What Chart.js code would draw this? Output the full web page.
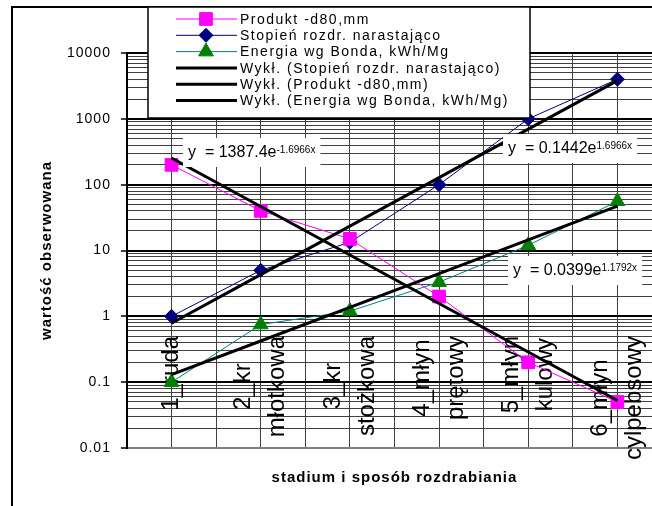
<!DOCTYPE html>
<html>
<head>
<meta charset="utf-8">
<script src="https://cdn.jsdelivr.net/npm/chart.js@4/dist/chart.umd.min.js"></script>
<style>
  html, body { margin: 0; padding: 0; background: #fff; overflow: hidden; }
  #wrap { position: relative; width: 652px; height: 506px; overflow: hidden; }
</style>
</head>
<body>
<div id="wrap"><canvas id="chart" width="680" height="506"></canvas></div>
<script>
const stages = ['1_ruda', '2_kr młotkowa', '3_kr stożkowa', '4_młyn prętowy', '5_młyn kulowy', '6_młyn cylpebsowy'];
const produktD80 = [200, 40, 15, 2, 0.2, 0.05];
const stopienRozdr = [1, 5, 13.33, 100, 1000, 4000];
const energiaBond = [0.1, 0.75, 1.2, 3.3, 12, 56];

// linie trendu wykładnicze: y = a * e^(b*x)
const trendStopien = [0.1442, 1.6966];
const trendProdukt = [1387.4, -1.6966];
const trendEnergia = [0.0399, 1.1792];

const yMajor = [0.01, 0.1, 1, 10, 100, 1000, 10000];

const FONT = '"Liberation Sans", Arial, sans-serif';
Chart.defaults.font.family = FONT;
Chart.defaults.color = '#000';

const pts = arr => arr.map((v, i) => ({ x: i + 1, y: v }));
const trendPts = ([a, b]) => stages.map((_, i) => ({ x: i + 1, y: a * Math.exp(b * (i + 1)) }));

const isMajor = v => yMajor.some(m => Math.abs(v - m) / m < 1e-6);

// ramka obszaru wykresu
const frame = {
  id: 'frame',
  beforeDraw(chart) {
    const ctx = chart.ctx;
    ctx.save();
    ctx.fillStyle = '#fff';
    ctx.fillRect(0, 0, chart.width, chart.height);
    ctx.strokeStyle = '#000';
    ctx.lineWidth = 2;
    ctx.strokeRect(12, 7, 700, 600);
    ctx.restore();
    ctx.letterSpacing = '1px';
  }
};

// podpisy kategorii pionowo, wewnątrz obszaru kreślenia
const stageLabels = {
  id: 'stageLabels',
  beforeDatasetsDraw(chart) {
    const ctx = chart.ctx;
    const xs = chart.scales.x;
    ctx.save();
    ctx.letterSpacing = '0px';
    ctx.font = '24px ' + FONT;
    ctx.fillStyle = '#000';
    ctx.textAlign = 'center';
    ctx.textBaseline = 'middle';
    stages.forEach((s, i) => {
      const lines = s.split(' ');
      const maxW = Math.max(...lines.map(l => ctx.measureText(l).width));
      const cy = 336 + maxW / 2;
      const cx0 = xs.getPixelForValue(i + 1);
      lines.forEach((l, j) => {
        const cx = cx0 + (j - (lines.length - 1) / 2) * 34;
        ctx.save();
        ctx.translate(cx, cy);
        ctx.rotate(-Math.PI / 2);
        ctx.fillText(l, 0, 0);
        ctx.restore();
      });
    });
    ctx.restore();
  }
};

// równania linii trendu
const equations = {
  id: 'equations',
  afterDatasetsDraw(chart) {
    const ctx = chart.ctx;
    const items = [
      { c: trendProdukt, x: 188, y: 157 },
      { c: trendStopien, x: 508, y: 153 },
      { c: trendEnergia, x: 513, y: 275 }
    ];
    ctx.save();
    ctx.letterSpacing = '0px';
    ctx.textBaseline = 'alphabetic';
    ctx.textAlign = 'left';
    items.forEach(({ c, x, y }) => {
      const main = 'y  = ' + c[0] + 'e';
      const sup = c[1] + 'x';
      ctx.font = '16px ' + FONT;
      const w1 = ctx.measureText(main).width;
      ctx.font = '10px ' + FONT;
      const w2 = ctx.measureText(sup).width;
      ctx.fillStyle = '#fff';
      ctx.fillRect(x - 5, y - 19, w1 + w2 + 10, 29);
      ctx.fillStyle = '#000';
      ctx.font = '16px ' + FONT;
      ctx.fillText(main, x, y);
      ctx.font = '10px ' + FONT;
      ctx.fillText(sup, x + w1, y - 4);
    });
    ctx.restore();
  }
};

// legenda w ramce u góry
const boxLegend = {
  id: 'boxLegend',
  afterDraw(chart) {
    const ctx = chart.ctx;
    const sets = chart.data.datasets;
    ctx.save();
    ctx.letterSpacing = '0px';
    ctx.fillStyle = '#fff';
    ctx.fillRect(148, 7, 382, 111);
    ctx.strokeStyle = '#000';
    ctx.lineWidth = 1.5;
    ctx.strokeRect(148, 7, 382, 111);
    sets.forEach((ds, r) => {
      const y = 19 + r * 16.3;
      ctx.strokeStyle = ds.borderColor;
      ctx.lineWidth = ds.borderWidth;
      ctx.beginPath();
      ctx.moveTo(176, y);
      ctx.lineTo(237, y);
      ctx.stroke();
      if (ds.pointRadius > 0) {
        const col = ds.pointBackgroundColor || ds.backgroundColor;
        ctx.fillStyle = col;
        ctx.strokeStyle = col;
        Chart.helpers.drawPoint(ctx, { pointStyle: ds.pointStyle, rotation: 0, radius: ds.pointRadius, borderWidth: 1 }, 206, y);
      }
      ctx.fillStyle = '#000';
      ctx.letterSpacing = '1.5px';
      ctx.font = '14px ' + FONT;
      ctx.textBaseline = 'middle';
      ctx.textAlign = 'left';
      ctx.fillText(ds.label, 240, y + 1);
    });
    ctx.restore();
  }
};

new Chart(document.getElementById('chart').getContext('2d'), {
  type: 'line',
  data: {
    datasets: [
      { label: 'Produkt -d80,mm', data: pts(produktD80), borderColor: '#FF00FF', backgroundColor: '#FF00FF',
        borderWidth: 1, pointStyle: 'rect', pointRadius: 9, order: 1 },
      { label: 'Stopień rozdr. narastająco', data: pts(stopienRozdr), borderColor: '#000080', backgroundColor: '#000080',
        borderWidth: 1, pointStyle: 'rectRot', pointRadius: 7, order: 1 },
      { label: 'Energia wg Bonda, kWh/Mg', data: pts(energiaBond), borderColor: '#008080', backgroundColor: '#008000',
        pointBackgroundColor: '#008000', pointBorderColor: '#008000',
        borderWidth: 1, pointStyle: 'triangle', pointRadius: 8.5, order: 1 },
      { label: 'Wykł. (Stopień rozdr. narastająco)', data: trendPts(trendStopien), borderColor: '#000',
        borderWidth: 3, pointRadius: 0, order: 0 },
      { label: 'Wykł. (Produkt -d80,mm)', data: trendPts(trendProdukt), borderColor: '#000',
        borderWidth: 3, pointRadius: 0, order: 0 },
      { label: 'Wykł. (Energia wg Bonda, kWh/Mg)', data: trendPts(trendEnergia), borderColor: '#000',
        borderWidth: 3, pointRadius: 0, order: 0 }
    ]
  },
  options: {
    responsive: false,
    animation: false,
    events: [],
    layout: { padding: { top: 53, right: 18, left: 0, bottom: 0 } },
    elements: { line: { tension: 0 } },
    plugins: {
      legend: { display: false },
      tooltip: { enabled: false }
    },
    scales: {
      x: {
        type: 'linear',
        min: 0.5,
        max: 6.5,
        ticks: { display: false, stepSize: 0.5 },
        grid: { color: '#404040', lineWidth: 1, drawTicks: false },
        border: { color: '#808080', width: 2 },
        title: {
          display: true,
          text: 'stadium i sposób rozdrabiania',
          font: { size: 15, weight: 'bold' },
          padding: { top: 21, bottom: 19 }
        }
      },
      y: {
        type: 'logarithmic',
        min: 0.01,
        max: 10000,
        afterBuildTicks(scale) {
          scale.ticks = scale.ticks.filter(t => {
            const m = t.value / Math.pow(10, Math.floor(Math.log10(t.value) + 1e-9));
            return Math.abs(m - Math.round(m)) < 1e-6;
          });
        },
        ticks: {
          autoSkip: false,
          padding: 10,
          font: { size: 14 },
          callback: v => isMajor(v) ? String(Number(v.toPrecision(1))) : ''
        },
        grid: {
          color: c => (c.tick && isMajor(c.tick.value)) ? '#000' : '#404040',
          lineWidth: c => (c.tick && isMajor(c.tick.value)) ? 2 : 1,
          tickLength: 6,
          tickWidth: 1.5,
          tickColor: c => (c.tick && isMajor(c.tick.value)) ? '#000' : 'rgba(0,0,0,0)'
        },
        border: { color: '#000', width: 2 },
        title: {
          display: true,
          text: 'wartość obserwowana',
          font: { size: 15, weight: 'bold' },
          padding: { top: 38, bottom: 6 }
        }
      }
    }
  },
  plugins: [frame, stageLabels, equations, boxLegend]
});
</script>
</body>
</html>
